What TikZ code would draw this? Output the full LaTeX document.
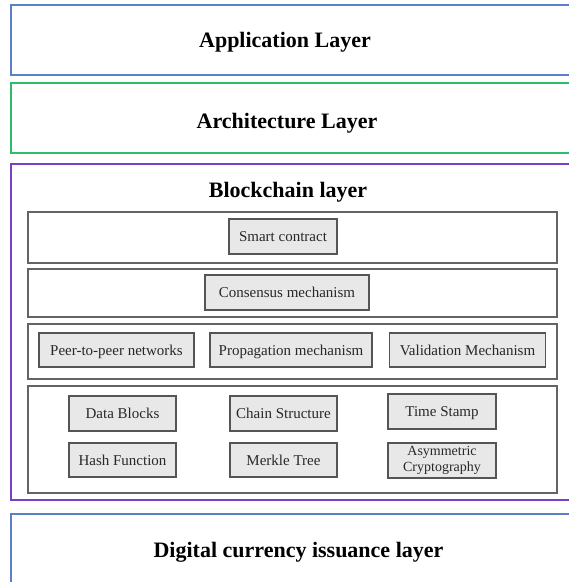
\documentclass[tikz,border=0pt]{standalone}
\usepackage{fontspec}
\setmainfont{Liberation Serif}
\definecolor{layblue}{RGB}{91,126,201}
\definecolor{laygreen}{RGB}{46,190,106}
\definecolor{laypurple}{RGB}{123,63,196}
\definecolor{rowgray}{RGB}{100,100,100}
\definecolor{itemgray}{RGB}{85,85,85}
\definecolor{itemfill}{RGB}{232,232,232}
\definecolor{itemtext}{RGB}{40,40,40}
\begin{document}
\begin{tikzpicture}[x=1pt,y=-1pt,
  layerbox/.style={draw, line width=2pt, inner sep=0pt},
  rowbox/.style={draw=rowgray, line width=1.4pt, inner sep=0pt},
  itembase/.style={draw=itemgray, fill=itemfill, line width=1.4pt, inner sep=0pt,
    text=itemtext, align=center},
  itembox/.style={itembase, font=\fontsize{15}{17}\selectfont, text height=11pt, text depth=1pt},
  smallitem/.style={itembase, font=\fontsize{14}{16}\selectfont},
  layertitle/.style={font=\fontsize{22}{26}\selectfont\bfseries, anchor=base, inner sep=0pt}]
\useasboundingbox (0,0) rectangle (569,582);
\clip (0,0) rectangle (569,582);
\fill[white] (0,0) rectangle (569,582);
% outer layers
\node[layerbox, draw=layblue, minimum width=589.5pt, minimum height=70pt] (app) at (305.25,40) {};
\node[layerbox, draw=laygreen, minimum width=589.5pt, minimum height=70pt] (arch) at (305.25,118) {};
\node[layerbox, draw=laypurple, minimum width=589.5pt, minimum height=336pt] (bc) at (305.25,332) {};
\node[layerbox, draw=layblue, minimum width=589.5pt, minimum height=106pt] (dig) at (305.25,567) {};
\node[layertitle] (apptitle) at (285,47) {Application Layer};
\node[layertitle] (archtitle) at (287,128) {Architecture Layer};
\node[layertitle] (bctitle) at (288,197) {Blockchain layer};
\node[layertitle] (digtitle) at (298.5,557) {Digital currency issuance layer};
% rows
\node[rowbox, minimum width=529pt, minimum height=51pt] (row1) at (292.5,237.5) {};
\node[rowbox, minimum width=529pt, minimum height=48pt] (row2) at (292.5,293) {};
\node[rowbox, minimum width=529pt, minimum height=55pt] (row3) at (292.5,351.5) {};
\node[rowbox, minimum width=529pt, minimum height=107pt] (row4) at (292.5,439.5) {};
% items
\node[itembox, minimum width=108pt, minimum height=35pt] (sc) at (283,236.5) {Smart contract};
\node[itembox, minimum width=164pt, minimum height=35pt] (cons) at (287,292.5) {Consensus mechanism};
\node[itembox, minimum width=155pt, minimum height=34pt] (p2p) at (116.5,350) {Peer-to-peer networks};
\node[itembox, minimum width=162pt, minimum height=34pt] (prop) at (291,350) {Propagation mechanism};
\node[itembox, minimum width=156pt, minimum height=34pt] (valid) at (467.5,350) {Validation Mechanism};
\node[itembox, minimum width=107pt, minimum height=35pt] (data) at (122.5,413.5) {Data Blocks};
\node[itembox, minimum width=107pt, minimum height=35pt] (chain) at (283.5,413.5) {Chain Structure};
\node[itembox, minimum width=108pt, minimum height=35pt] (time) at (442,411.5) {Time Stamp};
\node[itembox, minimum width=107pt, minimum height=34pt] (hash) at (122.5,460) {Hash Function};
\node[itembox, minimum width=107pt, minimum height=34pt] (merkle) at (283.5,460) {Merkle Tree};
\node[smallitem, minimum width=108pt, minimum height=35pt] (asym) at (442,460.5) {Asymmetric\\Cryptography};
\end{tikzpicture}
\end{document}
